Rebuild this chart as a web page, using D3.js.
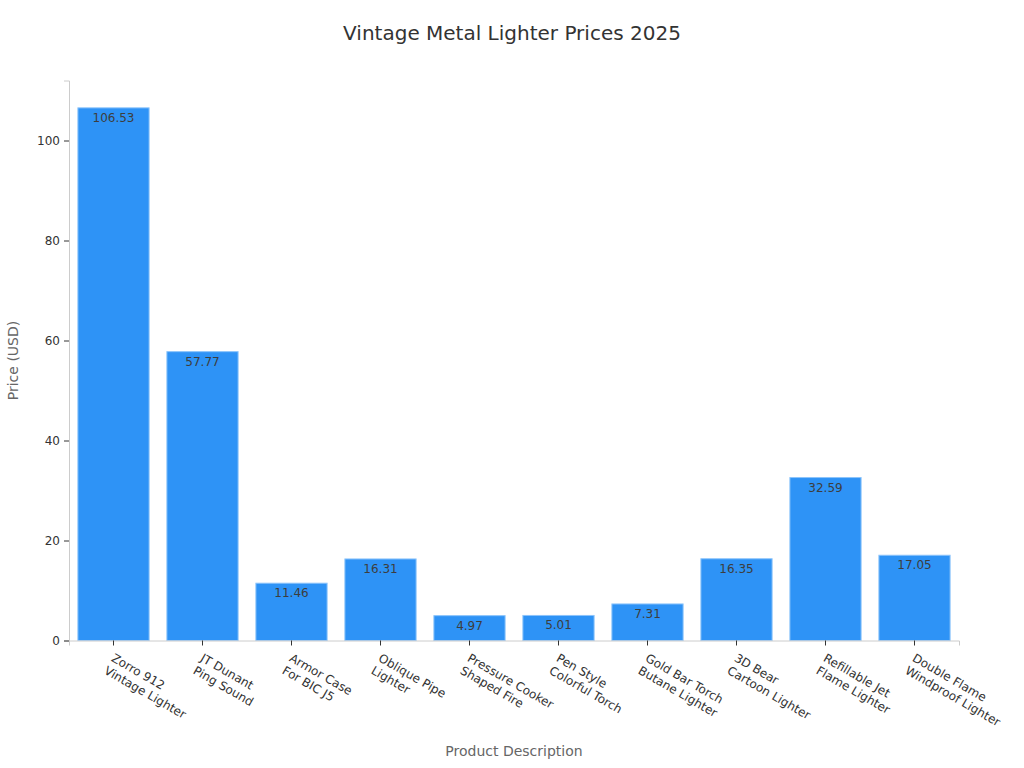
<!DOCTYPE html>
<html>
<head>
<meta charset="utf-8">
<script src="https://cdn.jsdelivr.net/npm/d3@7"></script>
<style>
  body { margin: 0; background: #fff; font-family: "DejaVu Sans", sans-serif; }
  .bar-label { font-size: 12px; fill: #3d3d3d; }
  .axis-title { font-size: 14px; fill: #666; }
</style>
</head>
<body>
<div id="chart"></div>
<script>
const products = [
  ["Zorro 912", "Vintage Lighter"],
  ["JT Dunant", "Ping Sound"],
  ["Armor Case", "For BIC J5"],
  ["Oblique Pipe", "Lighter"],
  ["Pressure Cooker", "Shaped Fire"],
  ["Pen Style", "Colorful Torch"],
  ["Gold Bar Torch", "Butane Lighter"],
  ["3D Bear", "Cartoon Lighter"],
  ["Refillable Jet", "Flame Lighter"],
  ["Double Flame", "Windproof Lighter"]
]
const prices = [106.53, 57.77, 11.46, 16.31, 4.97, 5.01, 7.31, 16.35, 32.59, 17.05]
const yTicks = [0, 20, 40, 60, 80, 100]

const w = 1024, h = 768
const margin = { top: 80.5, right: 65, bottom: 127.5, left: 69 }

const data = products.map((p, i) => ({ id: i, name: p, price: prices[i] }))

let svg = d3.select("#chart")
  .append("svg")
  .attr("width", w)
  .attr("height", h)

// title
svg.append("text")
  .attr("x", w / 2)
  .attr("y", 40)
  .attr("text-anchor", "middle")
  .style("font-size", "20px")
  .style("fill", "#333")
  .text("Vintage Metal Lighter Prices 2025")

let x = d3.scaleBand()
  .domain(data.map(d => d.id))
  .range([margin.left, w - margin.right])
  .paddingInner(0.2)
  .paddingOuter(0.1)

let y = d3.scaleLinear()
  .domain([0, 112])
  .range([h - margin.bottom, margin.top])

// y axis
let yAxis = svg.append("g")
  .attr("transform", `translate(${margin.left},0)`)
  .call(d3.axisLeft(y).tickValues(yTicks).tickSize(5).tickPadding(4))
yAxis.select(".domain").attr("stroke", "#ccc")
yAxis.selectAll(".tick line").attr("stroke", "#333")
yAxis.selectAll(".tick text")
  .style("font-size", "12px")
  .style("font-family", "DejaVu Sans")
  .attr("fill", "#333")

// bars
svg.append("g")
  .selectAll("rect")
  .data(data)
  .enter()
  .append("rect")
  .attr("x", d => x(d.id))
  .attr("y", d => y(d.price))
  .attr("width", x.bandwidth())
  .attr("height", d => y(0) - y(d.price))
  .attr("fill", "#2e93f6")
  .attr("stroke", "#8cc4fb")
  .attr("stroke-width", 1)

// value labels
svg.append("g")
  .selectAll("text")
  .data(data)
  .enter()
  .append("text")
  .attr("class", "bar-label")
  .attr("x", d => x(d.id) + x.bandwidth() / 2)
  .attr("y", d => y(d.price) + 14)
  .attr("text-anchor", "middle")
  .text(d => d.price.toFixed(2))

// x axis
let xAxis = svg.append("g")
  .attr("transform", `translate(0,${y(0)})`)
  .call(d3.axisBottom(x).tickSize(5).tickFormat(""))
xAxis.select(".domain").attr("stroke", "#ccc")
xAxis.selectAll(".tick line").attr("stroke", "#333")

// rotated two-line tick labels
svg.append("g")
  .selectAll("text")
  .data(data)
  .enter()
  .append("text")
  .attr("transform", d => `translate(${x(d.id) + x.bandwidth() / 2 - 3},${y(0) + 20}) rotate(30)`)
  .style("font-size", "12px")
  .style("fill", "#333")
  .each(function(d) {
    let t = d3.select(this)
    d.name.forEach((line, i) => {
      t.append("tspan")
        .attr("x", 0)
        .attr("dy", i === 0 ? 0 : "1.2em")
        .text(line)
    })
  })

// axis titles
svg.append("text")
  .attr("class", "axis-title")
  .attr("x", (margin.left + w - margin.right) / 2)
  .attr("y", 756)
  .attr("text-anchor", "middle")
  .text("Product Description")

svg.append("text")
  .attr("class", "axis-title")
  .attr("transform", `translate(18,${(margin.top + h - margin.bottom) / 2}) rotate(-90)`)
  .attr("text-anchor", "middle")
  .text("Price (USD)")
</script>
</body>
</html>
